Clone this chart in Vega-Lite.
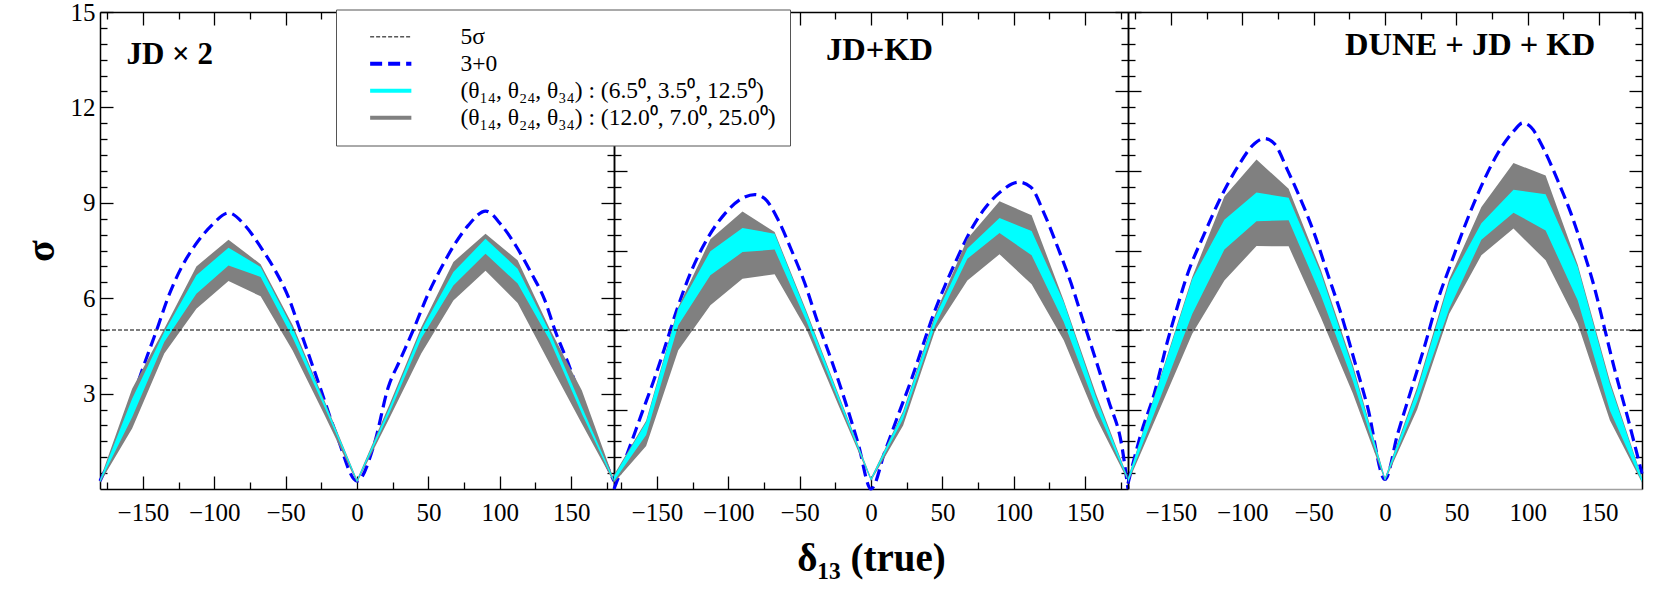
{
  "$schema": "https://vega.github.io/schema/vega-lite/v6.json",
  "padding": {"left": 21, "top": 0, "right": 5, "bottom": 5},
  "spacing": 0,
  "bounds": "flush",
  "config": {
    "view": {"stroke": null},
    "axis": {"domainColor": "black", "tickColor": "black", "domainWidth": 1.5, "tickWidth": 1.3, "labelFont": "Liberation Serif", "labelFontSize": 25, "labelColor": "black", "labelFlush": false, "labelOverlap": false, "grid": false, "titleFont": "Liberation Serif", "titleColor": "black", "titleFontWeight": "bold"}
  },
  "datasets": {
    "bands": [
      {"panel": 1, "d": -180, "glo": 0.2, "ghi": 0.3, "clo": 0.22, "chi": 0.28},
      {"panel": 1, "d": -157.5, "glo": 1.9, "ghi": 3.15, "clo": 2.26, "chi": 2.84},
      {"panel": 1, "d": -135, "glo": 4.26, "ghi": 5.04, "clo": 4.62, "chi": 4.94},
      {"panel": 1, "d": -112.5, "glo": 5.67, "ghi": 7.0, "clo": 6.14, "chi": 6.72},
      {"panel": 1, "d": -90, "glo": 6.54, "ghi": 7.84, "clo": 7.03, "chi": 7.59},
      {"panel": 1, "d": -67.5, "glo": 6.06, "ghi": 7.07, "clo": 6.67, "chi": 6.98},
      {"panel": 1, "d": -45, "glo": 4.35, "ghi": 5.15, "clo": 4.75, "chi": 5.05},
      {"panel": 1, "d": -22.5, "glo": 2.3, "ghi": 2.75, "clo": 2.55, "chi": 2.7},
      {"panel": 1, "d": 0, "glo": 0.2, "ghi": 0.3, "clo": 0.22, "chi": 0.28},
      {"panel": 1, "d": 22.5, "glo": 2.21, "ghi": 2.63, "clo": 2.37, "chi": 2.53},
      {"panel": 1, "d": 45, "glo": 4.26, "ghi": 5.09, "clo": 4.73, "chi": 4.99},
      {"panel": 1, "d": 67.5, "glo": 5.93, "ghi": 7.14, "clo": 6.4, "chi": 6.82},
      {"panel": 1, "d": 90, "glo": 6.86, "ghi": 8.03, "clo": 7.4, "chi": 7.87},
      {"panel": 1, "d": 112.5, "glo": 5.85, "ghi": 7.19, "clo": 6.46, "chi": 6.93},
      {"panel": 1, "d": 135, "glo": 3.94, "ghi": 5.04, "clo": 4.68, "chi": 4.94},
      {"panel": 1, "d": 157.5, "glo": 2.05, "ghi": 3.1, "clo": 2.37, "chi": 2.58},
      {"panel": 1, "d": 180, "glo": 0.2, "ghi": 0.3, "clo": 0.22, "chi": 0.28},
      {"panel": 2, "d": -180, "glo": 0.2, "ghi": 0.45, "clo": 0.25, "chi": 0.4},
      {"panel": 2, "d": -157.5, "glo": 1.35, "ghi": 2.15, "clo": 1.7, "chi": 2.1},
      {"panel": 2, "d": -135, "glo": 4.36, "ghi": 5.72, "clo": 5.15, "chi": 5.67},
      {"panel": 2, "d": -112.5, "glo": 5.78, "ghi": 7.85, "clo": 6.72, "chi": 7.48},
      {"panel": 2, "d": -90, "glo": 6.61, "ghi": 8.73, "clo": 7.45, "chi": 8.21},
      {"panel": 2, "d": -67.5, "glo": 6.75, "ghi": 8.08, "clo": 7.53, "chi": 8.03},
      {"panel": 2, "d": -45, "glo": 5.0, "ghi": 5.57, "clo": 5.25, "chi": 5.51},
      {"panel": 2, "d": -22.5, "glo": 2.6, "ghi": 2.95, "clo": 2.75, "chi": 2.9},
      {"panel": 2, "d": 0, "glo": 0.25, "ghi": 0.35, "clo": 0.27, "chi": 0.33},
      {"panel": 2, "d": 22.5, "glo": 2.0, "ghi": 2.45, "clo": 2.2, "chi": 2.4},
      {"panel": 2, "d": 45, "glo": 5.0, "ghi": 5.5, "clo": 5.15, "chi": 5.42},
      {"panel": 2, "d": 67.5, "glo": 6.56, "ghi": 7.87, "clo": 7.24, "chi": 7.56},
      {"panel": 2, "d": 90, "glo": 7.38, "ghi": 9.05, "clo": 8.05, "chi": 8.52},
      {"panel": 2, "d": 112.5, "glo": 6.44, "ghi": 8.61, "clo": 7.35, "chi": 8.11},
      {"panel": 2, "d": 135, "glo": 4.68, "ghi": 5.93, "clo": 5.25, "chi": 5.88},
      {"panel": 2, "d": 157.5, "glo": 2.26, "ghi": 3.0, "clo": 2.58, "chi": 2.89},
      {"panel": 2, "d": 180, "glo": 0.25, "ghi": 0.35, "clo": 0.27, "chi": 0.33},
      {"panel": 3, "d": -180, "glo": 0.2, "ghi": 0.35, "clo": 0.22, "chi": 0.33},
      {"panel": 3, "d": -157.5, "glo": 2.54, "ghi": 3.5, "clo": 2.85, "chi": 3.45},
      {"panel": 3, "d": -135, "glo": 4.88, "ghi": 6.67, "clo": 5.5, "chi": 6.6},
      {"panel": 3, "d": -112.5, "glo": 6.56, "ghi": 9.2, "clo": 7.53, "chi": 8.47},
      {"panel": 3, "d": -90, "glo": 7.64, "ghi": 10.36, "clo": 8.42, "chi": 9.32},
      {"panel": 3, "d": -67.5, "glo": 7.63, "ghi": 9.44, "clo": 8.45, "chi": 9.16},
      {"panel": 3, "d": -45, "glo": 5.4, "ghi": 6.9, "clo": 6.1, "chi": 6.8},
      {"panel": 3, "d": -22.5, "glo": 3.0, "ghi": 3.9, "clo": 3.4, "chi": 3.8},
      {"panel": 3, "d": 0, "glo": 0.25, "ghi": 0.35, "clo": 0.27, "chi": 0.33},
      {"panel": 3, "d": 22.5, "glo": 2.5, "ghi": 3.2, "clo": 2.75, "chi": 3.1},
      {"panel": 3, "d": 45, "glo": 5.51, "ghi": 6.6, "clo": 5.67, "chi": 6.5},
      {"panel": 3, "d": 67.5, "glo": 7.35, "ghi": 8.87, "clo": 7.84, "chi": 8.36},
      {"panel": 3, "d": 90, "glo": 8.19, "ghi": 10.25, "clo": 8.69, "chi": 9.41},
      {"panel": 3, "d": 112.5, "glo": 7.19, "ghi": 9.86, "clo": 8.13, "chi": 9.27},
      {"panel": 3, "d": 135, "glo": 5.2, "ghi": 7.05, "clo": 5.93, "chi": 6.98},
      {"panel": 3, "d": 157.5, "glo": 2.16, "ghi": 3.4, "clo": 2.47, "chi": 3.3},
      {"panel": 3, "d": 180, "glo": 0.2, "ghi": 0.35, "clo": 0.22, "chi": 0.33}
    ],
    "nu": [
      {"panel": 1, "d": -180, "s": 0.25}, {"panel": 1, "d": -165, "s": 1.8}, {"panel": 1, "d": -149.7, "s": 3.84}, {"panel": 1, "d": -140.3, "s": 5.0}, {"panel": 1, "d": -132.2, "s": 6.04}, {"panel": 1, "d": -122.8, "s": 6.98}, {"panel": 1, "d": -113.5, "s": 7.66}, {"panel": 1, "d": -101.8, "s": 8.29}, {"panel": 1, "d": -89.9, "s": 8.68}, {"panel": 1, "d": -78.5, "s": 8.29}, {"panel": 1, "d": -66.8, "s": 7.56}, {"panel": 1, "d": -57.4, "s": 6.88}, {"panel": 1, "d": -48.1, "s": 6.04}, {"panel": 1, "d": -39.9, "s": 5.0}, {"panel": 1, "d": -27.1, "s": 3.36}, {"panel": 1, "d": -14, "s": 1.66}, {"panel": 1, "d": 0, "s": 0.25},
      {"panel": 1, "d": 12, "s": 1.4}, {"panel": 1, "d": 21.9, "s": 3.2}, {"panel": 1, "d": 30.1, "s": 4.05}, {"panel": 1, "d": 39.4, "s": 5.0}, {"panel": 1, "d": 49.9, "s": 6.14}, {"panel": 1, "d": 59.3, "s": 6.98}, {"panel": 1, "d": 68.6, "s": 7.71}, {"panel": 1, "d": 77.9, "s": 8.29}, {"panel": 1, "d": 90.1, "s": 8.74}, {"panel": 1, "d": 101.3, "s": 8.29}, {"panel": 1, "d": 111.8, "s": 7.61}, {"panel": 1, "d": 122.3, "s": 6.77}, {"panel": 1, "d": 131.6, "s": 5.93}, {"panel": 1, "d": 138.6, "s": 5.0}, {"panel": 1, "d": 148, "s": 3.94}, {"panel": 1, "d": 165, "s": 1.8}, {"panel": 1, "d": 180, "s": 0.25},
      {"panel": 2, "d": -180, "s": 0.0}, {"panel": 2, "d": -170, "s": 1.2}, {"panel": 2, "d": -160.6, "s": 2.37}, {"panel": 2, "d": -151.3, "s": 3.52}, {"panel": 2, "d": -144.3, "s": 4.47}, {"panel": 2, "d": -136.1, "s": 5.62}, {"panel": 2, "d": -125.6, "s": 6.88}, {"panel": 2, "d": -114, "s": 7.92}, {"panel": 2, "d": -102.3, "s": 8.66}, {"panel": 2, "d": -90.6, "s": 9.13}, {"panel": 2, "d": -81.3, "s": 9.26}, {"panel": 2, "d": -74.3, "s": 9.13}, {"panel": 2, "d": -64.9, "s": 8.45}, {"panel": 2, "d": -55.6, "s": 7.5}, {"panel": 2, "d": -46.3, "s": 6.46}, {"panel": 2, "d": -37, "s": 5.2}, {"panel": 2, "d": -27.7, "s": 4.05}, {"panel": 2, "d": -18.3, "s": 2.79}, {"panel": 2, "d": -9, "s": 1.43}, {"panel": 2, "d": 0, "s": 0.0},
      {"panel": 2, "d": 9.9, "s": 1.2}, {"panel": 2, "d": 19.4, "s": 2.37}, {"panel": 2, "d": 28.9, "s": 3.52}, {"panel": 2, "d": 36, "s": 4.47}, {"panel": 2, "d": 43.1, "s": 5.41}, {"panel": 2, "d": 51.4, "s": 6.35}, {"panel": 2, "d": 59.7, "s": 7.19}, {"panel": 2, "d": 69.2, "s": 8.08}, {"panel": 2, "d": 78.6, "s": 8.76}, {"panel": 2, "d": 90.5, "s": 9.34}, {"panel": 2, "d": 103.5, "s": 9.65}, {"panel": 2, "d": 111.8, "s": 9.5}, {"panel": 2, "d": 121.3, "s": 8.66}, {"panel": 2, "d": 130.7, "s": 7.61}, {"panel": 2, "d": 140.2, "s": 6.46}, {"panel": 2, "d": 148.5, "s": 5.3}, {"panel": 2, "d": 156.8, "s": 4.15}, {"panel": 2, "d": 166.3, "s": 2.79}, {"panel": 2, "d": 175.8, "s": 1.32}, {"panel": 2, "d": 180, "s": 0.0},
      {"panel": 3, "d": -180, "s": 0.17}, {"panel": 3, "d": -170.9, "s": 1.74}, {"panel": 3, "d": -161.6, "s": 3.0}, {"panel": 3, "d": -152.2, "s": 4.67}, {"panel": 3, "d": -147.5, "s": 5.41}, {"panel": 3, "d": -138.2, "s": 6.77}, {"panel": 3, "d": -126.5, "s": 8.03}, {"panel": 3, "d": -114.9, "s": 9.18}, {"panel": 3, "d": -103.2, "s": 10.13}, {"panel": 3, "d": -91.5, "s": 10.86}, {"panel": 3, "d": -84.5, "s": 11.02}, {"panel": 3, "d": -77.5, "s": 10.86}, {"panel": 3, "d": -68.2, "s": 10.02}, {"panel": 3, "d": -58.8, "s": 9.08}, {"panel": 3, "d": -49.5, "s": 8.03}, {"panel": 3, "d": -40.2, "s": 6.77}, {"panel": 3, "d": -30.8, "s": 5.51}, {"panel": 3, "d": -21.5, "s": 4.05}, {"panel": 3, "d": -12.2, "s": 2.58}, {"panel": 3, "d": 0, "s": 0.3},
      {"panel": 3, "d": 8.9, "s": 1.74}, {"panel": 3, "d": 18.2, "s": 3.1}, {"panel": 3, "d": 27.6, "s": 4.47}, {"panel": 3, "d": 36.9, "s": 5.93}, {"panel": 3, "d": 46.2, "s": 7.09}, {"panel": 3, "d": 55.6, "s": 8.24}, {"panel": 3, "d": 67.2, "s": 9.5}, {"panel": 3, "d": 78.9, "s": 10.55}, {"panel": 3, "d": 90.6, "s": 11.28}, {"panel": 3, "d": 96.4, "s": 11.51}, {"panel": 3, "d": 102.2, "s": 11.38}, {"panel": 3, "d": 111.6, "s": 10.65}, {"panel": 3, "d": 120.9, "s": 9.71}, {"panel": 3, "d": 130.3, "s": 8.66}, {"panel": 3, "d": 139.6, "s": 7.4}, {"panel": 3, "d": 146.6, "s": 6.35}, {"panel": 3, "d": 153.5, "s": 5.1}, {"panel": 3, "d": 160.6, "s": 3.8}, {"panel": 3, "d": 169.9, "s": 2.26}, {"panel": 3, "d": 180, "s": 0.48}
    ]
  },
  "hconcat": [
    {
      "width": 514, "height": 477,
      "resolve": {"axis": {"x": "independent", "y": "independent"}},
      "layer": [
        {
          "data": {"name": "nu"},
          "transform": [{"filter": "datum.panel === 1"}],
          "mark": {"type": "line", "interpolate": "monotone", "strokeWidth": 3.2},
          "encoding": {
            "x": {"field": "d", "type": "quantitative", "scale": {"domain": [-180, 180], "nice": false, "zero": false},
                  "axis": {"orient": "bottom", "title": null, "labelFont": "Liberation Serif", "labelFontSize": 25, "values": [-175,-150,-125,-100,-75,-50,-25,0,25,50,75,100,125,150,175], "labelExpr": "datum.value % 50 === 0 ? replace('' + datum.value, '-', '−') : ''", "tickSize": {"condition": {"test": "datum.value % 50 === 0", "value": -13}, "value": -7}, "labelPadding": 24}},
            "y": {"field": "s", "type": "quantitative", "scale": {"domain": [0, 15], "nice": false, "zero": false},
                  "axis": {"orient": "left", "title": "σ", "titleFontSize": 40, "titlePadding": 9, "titleFont": "Liberation Serif", "labelFont": "Liberation Serif", "labelFontSize": 25, "values": [0.5,1,1.5,2,2.5,3,3.5,4,4.5,5,5.5,6,6.5,7,7.5,8,8.5,9,9.5,10,10.5,11,11.5,12,12.5,13,13.5,14,14.5,15], "labelExpr": "datum.value % 3 === 0 && datum.value > 0 ? '' + datum.value : ''", "tickSize": {"condition": {"test": "datum.value % 3 === 0", "value": -13}, "value": -7}, "labelPadding": 18}},
            "color": {"datum": "3+0", "type": "nominal",
                      "scale": {"domain": ["5σ", "3+0", "(θ₁₄, θ₂₄, θ₃₄) : (6.5⁰, 3.5⁰, 12.5⁰)", "(θ₁₄, θ₂₄, θ₃₄) : (12.0⁰, 7.0⁰, 25.0⁰)"], "range": ["black", "#0000ff", "#00ffff", "#808080"]},
                      "legend": {"title": null, "orient": "none", "legendX": 236, "legendY": -2.5, "symbolType": "stroke", "symbolSize": 1700, "symbolOffset": 29, "symbolStrokeWidth": {"expr": "datum.value === '5σ' ? 1 : 4"}, "clipHeight": 26.7, "rowPadding": 0, "labelFont": "Liberation Serif", "labelFontSize": 23.5, "labelColor": "black", "labelLimit": 800, "labelExpr": "datum.label + '   '", "fillColor": "white", "strokeColor": "#555555", "padding": 14, "labelOffset": 58}},
            "strokeDash": {"datum": "3+0", "type": "nominal",
                      "scale": {"domain": ["5σ", "3+0", "(θ₁₄, θ₂₄, θ₃₄) : (6.5⁰, 3.5⁰, 12.5⁰)", "(θ₁₄, θ₂₄, θ₃₄) : (12.0⁰, 7.0⁰, 25.0⁰)"], "range": [[4, 2], [12, 6], [1, 0], [1, 0]]}}
          }
        },
        {
          "data": {"name": "bands"},
          "transform": [{"filter": "datum.panel === 1"}],
          "mark": {"type": "area", "color": "#808080"},
          "encoding": {
            "x": {"field": "d", "type": "quantitative", "scale": {"domain": [-180, 180], "nice": false, "zero": false}, "axis": {"orient": "top", "title": null, "labels": false, "values": [-175,-150,-125,-100,-75,-50,-25,0,25,50,75,100,125,150,175], "tickSize": {"condition": {"test": "datum.value % 50 === 0", "value": -13}, "value": -7}}},
            "y": {"field": "ghi", "type": "quantitative", "scale": {"domain": [0, 15], "nice": false, "zero": false}, "axis": {"orient": "right", "title": null, "labels": false, "values": [0.5,1,1.5,2,2.5,3,3.5,4,4.5,5,5.5,6,6.5,7,7.5,8,8.5,9,9.5,10,10.5,11,11.5,12,12.5,13,13.5,14,14.5,15], "tickSize": {"condition": {"test": "datum.value % 3 === 0", "value": -13}, "value": -7}}},
            "y2": {"field": "glo"}
          }
        },
        {
          "data": {"name": "bands"},
          "transform": [{"filter": "datum.panel === 1"}],
          "mark": {"type": "area", "color": "#00ffff"},
          "encoding": {
            "x": {"field": "d", "type": "quantitative", "scale": {"domain": [-180, 180], "nice": false, "zero": false}, "axis": null},
            "y": {"field": "chi", "type": "quantitative", "scale": {"domain": [0, 15], "nice": false, "zero": false}, "axis": null},
            "y2": {"field": "clo"}
          }
        },
        {
          "data": {"values": [{}]},
          "mark": {"type": "rule", "strokeWidth": 1},
          "encoding": {
            "y": {"datum": 5, "type": "quantitative", "scale": {"domain": [0, 15], "nice": false, "zero": false}, "axis": null},
            "color": {"datum": "5σ", "type": "nominal"},
            "strokeDash": {"datum": "5σ", "type": "nominal"}
          }
        },
        {
          "data": {"values": [{}]},
          "mark": {"type": "text", "align": "left", "baseline": "alphabetic", "font": "Liberation Serif", "fontWeight": "bold", "fontSize": 31, "color": "black"},
          "encoding": {
            "x": {"datum": -161.5, "type": "quantitative", "scale": {"domain": [-180, 180], "nice": false, "zero": false}, "axis": null},
            "y": {"datum": 13.35, "type": "quantitative", "scale": {"domain": [0, 15], "nice": false, "zero": false}, "axis": null},
            "text": {"value": "JD × 2"}
          }
        }
      ]
    },
    {
      "width": 514, "height": 477,
      "resolve": {"axis": {"x": "independent", "y": "independent"}},
      "layer": [
        {
          "data": {"name": "nu"},
          "transform": [{"filter": "datum.panel === 2"}],
          "mark": {"type": "line", "interpolate": "monotone", "color": "#0000ff", "strokeDash": [12, 6], "strokeWidth": 3.2},
          "encoding": {
            "x": {"field": "d", "type": "quantitative", "scale": {"domain": [-180, 180], "nice": false, "zero": false},
                  "axis": {"orient": "bottom", "title": "δ₁₃ (true)", "titleFontSize": 39, "titlePadding": 8, "labelFont": "Liberation Serif", "labelFontSize": 25, "values": [-175,-150,-125,-100,-75,-50,-25,0,25,50,75,100,125,150,175], "labelExpr": "datum.value % 50 === 0 ? replace('' + datum.value, '-', '−') : ''", "tickSize": {"condition": {"test": "datum.value % 50 === 0", "value": -13}, "value": -7}, "labelPadding": 24}},
            "y": {"field": "s", "type": "quantitative", "scale": {"domain": [0, 15], "nice": false, "zero": false},
                  "axis": {"orient": "left", "title": null, "labels": false, "values": [0.5,1,1.5,2,2.5,3,3.5,4,4.5,5,5.5,6,6.5,7,7.5,8,8.5,9,9.5,10,10.5,11,11.5,12,12.5,13,13.5,14,14.5,15], "tickSize": {"condition": {"test": "datum.value % 2.5 === 0", "value": -13}, "value": -7}}}
          }
        },
        {
          "data": {"name": "bands"},
          "transform": [{"filter": "datum.panel === 2"}],
          "mark": {"type": "area", "color": "#808080"},
          "encoding": {
            "x": {"field": "d", "type": "quantitative", "scale": {"domain": [-180, 180], "nice": false, "zero": false}, "axis": {"orient": "top", "title": null, "labels": false, "values": [-175,-150,-125,-100,-75,-50,-25,0,25,50,75,100,125,150,175], "tickSize": {"condition": {"test": "datum.value % 50 === 0", "value": -13}, "value": -7}}},
            "y": {"field": "ghi", "type": "quantitative", "scale": {"domain": [0, 15], "nice": false, "zero": false}, "axis": {"orient": "right", "title": null, "labels": false, "values": [0.5,1,1.5,2,2.5,3,3.5,4,4.5,5,5.5,6,6.5,7,7.5,8,8.5,9,9.5,10,10.5,11,11.5,12,12.5,13,13.5,14,14.5,15], "tickSize": {"condition": {"test": "datum.value % 2.5 === 0", "value": -13}, "value": -7}}},
            "y2": {"field": "glo"}
          }
        },
        {
          "data": {"name": "bands"},
          "transform": [{"filter": "datum.panel === 2"}],
          "mark": {"type": "area", "color": "#00ffff"},
          "encoding": {
            "x": {"field": "d", "type": "quantitative", "scale": {"domain": [-180, 180], "nice": false, "zero": false}, "axis": null},
            "y": {"field": "chi", "type": "quantitative", "scale": {"domain": [0, 15], "nice": false, "zero": false}, "axis": null},
            "y2": {"field": "clo"}
          }
        },
        {
          "data": {"values": [{}]},
          "mark": {"type": "rule", "color": "black", "strokeDash": [4, 2], "strokeWidth": 1},
          "encoding": {"y": {"datum": 5, "type": "quantitative", "scale": {"domain": [0, 15], "nice": false, "zero": false}, "axis": null}}
        },
        {
          "data": {"values": [{}]},
          "mark": {"type": "text", "align": "left", "baseline": "alphabetic", "font": "Liberation Serif", "fontWeight": "bold", "fontSize": 32.5, "color": "black"},
          "encoding": {
            "x": {"datum": -31.5, "type": "quantitative", "scale": {"domain": [-180, 180], "nice": false, "zero": false}, "axis": null},
            "y": {"datum": 13.5, "type": "quantitative", "scale": {"domain": [0, 15], "nice": false, "zero": false}, "axis": null},
            "text": {"value": "JD+KD"}
          }
        }
      ]
    },
    {
      "width": 514, "height": 477,
      "resolve": {"axis": {"x": "independent", "y": "independent"}},
      "layer": [
        {
          "data": {"name": "nu"},
          "transform": [{"filter": "datum.panel === 3"}],
          "mark": {"type": "line", "interpolate": "monotone", "color": "#0000ff", "strokeDash": [12, 6], "strokeWidth": 3.2},
          "encoding": {
            "x": {"field": "d", "type": "quantitative", "scale": {"domain": [-180, 180], "nice": false, "zero": false},
                  "axis": {"orient": "bottom", "title": null, "labelFont": "Liberation Serif", "labelFontSize": 25, "values": [-150,-100,-50,0,50,100,150], "labelExpr": "replace('' + datum.value, '-', '−')", "ticks": false, "domainColor": "#a0a0a0", "labelPadding": 11}},
            "y": {"field": "s", "type": "quantitative", "scale": {"domain": [0, 15], "nice": false, "zero": false},
                  "axis": {"orient": "left", "title": null, "labels": false, "values": [0.5,1,1.5,2,2.5,3,3.5,4,4.5,5,5.5,6,6.5,7,7.5,8,8.5,9,9.5,10,10.5,11,11.5,12,12.5,13,13.5,14,14.5,15], "tickSize": {"condition": {"test": "datum.value % 2.5 === 0", "value": -13}, "value": -7}}}
          }
        },
        {
          "data": {"name": "bands"},
          "transform": [{"filter": "datum.panel === 3"}],
          "mark": {"type": "area", "color": "#808080"},
          "encoding": {
            "x": {"field": "d", "type": "quantitative", "scale": {"domain": [-180, 180], "nice": false, "zero": false}, "axis": {"orient": "top", "title": null, "labels": false, "values": [-175,-150,-125,-100,-75,-50,-25,0,25,50,75,100,125,150,175], "tickSize": {"condition": {"test": "datum.value % 50 === 0", "value": -13}, "value": -7}}},
            "y": {"field": "ghi", "type": "quantitative", "scale": {"domain": [0, 15], "nice": false, "zero": false}, "axis": {"orient": "right", "title": null, "labels": false, "values": [0.5,1,1.5,2,2.5,3,3.5,4,4.5,5,5.5,6,6.5,7,7.5,8,8.5,9,9.5,10,10.5,11,11.5,12,12.5,13,13.5,14,14.5,15], "tickSize": {"condition": {"test": "datum.value % 2.5 === 0", "value": -13}, "value": -7}}},
            "y2": {"field": "glo"}
          }
        },
        {
          "data": {"name": "bands"},
          "transform": [{"filter": "datum.panel === 3"}],
          "mark": {"type": "area", "color": "#00ffff"},
          "encoding": {
            "x": {"field": "d", "type": "quantitative", "scale": {"domain": [-180, 180], "nice": false, "zero": false}, "axis": null},
            "y": {"field": "chi", "type": "quantitative", "scale": {"domain": [0, 15], "nice": false, "zero": false}, "axis": null},
            "y2": {"field": "clo"}
          }
        },
        {
          "data": {"values": [{}]},
          "mark": {"type": "rule", "color": "black", "strokeDash": [4, 2], "strokeWidth": 1},
          "encoding": {"y": {"datum": 5, "type": "quantitative", "scale": {"domain": [0, 15], "nice": false, "zero": false}, "axis": null}}
        },
        {
          "data": {"values": [{}]},
          "mark": {"type": "text", "align": "left", "baseline": "alphabetic", "font": "Liberation Serif", "fontWeight": "bold", "fontSize": 32.5, "color": "black"},
          "encoding": {
            "x": {"datum": -28, "type": "quantitative", "scale": {"domain": [-180, 180], "nice": false, "zero": false}, "axis": null},
            "y": {"datum": 13.65, "type": "quantitative", "scale": {"domain": [0, 15], "nice": false, "zero": false}, "axis": null},
            "text": {"value": "DUNE + JD + KD"}
          }
        }
      ]
    }
  ]
}
